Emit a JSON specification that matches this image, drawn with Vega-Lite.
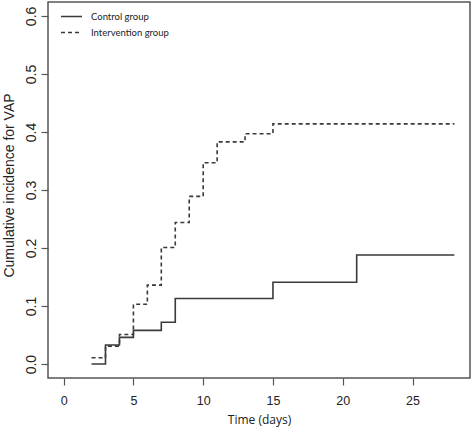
{
  "$schema": "https://vega.github.io/schema/vega-lite/v6.json",
  "width": 422,
  "height": 376,
  "autosize": {"type": "none"},
  "padding": {"left": 48, "top": 2, "right": 2, "bottom": 50},
  "background": "white",
  "config": {
    "view": {"stroke": "#555555", "strokeWidth": 1.5},
    "font": "Liberation Sans"
  },
  "data": {
    "values": [
      {"group": "Control group", "day": 2, "cif": 0.0},
      {"group": "Control group", "day": 3, "cif": 0.033},
      {"group": "Control group", "day": 4, "cif": 0.046},
      {"group": "Control group", "day": 5, "cif": 0.058},
      {"group": "Control group", "day": 7, "cif": 0.072},
      {"group": "Control group", "day": 8, "cif": 0.113},
      {"group": "Control group", "day": 15, "cif": 0.141},
      {"group": "Control group", "day": 21, "cif": 0.188},
      {"group": "Control group", "day": 28, "cif": 0.188},
      {"group": "Intervention group", "day": 2, "cif": 0.011},
      {"group": "Intervention group", "day": 3, "cif": 0.031},
      {"group": "Intervention group", "day": 4, "cif": 0.051},
      {"group": "Intervention group", "day": 5, "cif": 0.103},
      {"group": "Intervention group", "day": 6, "cif": 0.136},
      {"group": "Intervention group", "day": 7, "cif": 0.201},
      {"group": "Intervention group", "day": 8, "cif": 0.244},
      {"group": "Intervention group", "day": 9, "cif": 0.289},
      {"group": "Intervention group", "day": 10, "cif": 0.347},
      {"group": "Intervention group", "day": 11, "cif": 0.383},
      {"group": "Intervention group", "day": 13, "cif": 0.397},
      {"group": "Intervention group", "day": 15, "cif": 0.414},
      {"group": "Intervention group", "day": 28, "cif": 0.414}
    ]
  },
  "mark": {"type": "line", "interpolate": "step-after", "color": "#3a3a3a", "strokeWidth": 1.6},
  "encoding": {
    "x": {
      "field": "day", "type": "quantitative",
      "scale": {"domain": [-1.12, 29.12], "nice": false, "zero": false},
      "axis": {
        "values": [0, 5, 10, 15, 20, 25],
        "title": "Time (days)",
        "titleFont": "Open Sans", "titleFontSize": 12, "titleFontWeight": "normal", "titleColor": "#222",
        "titleY": 45, "titleBaseline": "alphabetic",
        "domain": false, "grid": false,
        "tickSize": 7, "tickColor": "#555", "tickWidth": 1.2,
        "labelFontSize": 12.5, "labelColor": "#222", "labelPadding": 9,
        "labelFlush": false
      }
    },
    "y": {
      "field": "cif", "type": "quantitative",
      "scale": {"domain": [-0.024, 0.624], "nice": false, "zero": false},
      "axis": {
        "values": [0, 0.1, 0.2, 0.3, 0.4, 0.5, 0.6],
        "format": ".1f",
        "title": "Cumulative incidence for VAP",
        "titleFontSize": 14, "titleFontWeight": "normal", "titleColor": "#222",
        "titleX": -35, "titleY": 183, "titleAlign": "center", "titleBaseline": "alphabetic", "titleAngle": -90,
        "domain": false, "grid": false,
        "tickSize": 7, "tickColor": "#555", "tickWidth": 1.2,
        "labelFontSize": 14, "labelColor": "#222",
        "labelAngle": -90, "labelAlign": "center", "labelBaseline": "alphabetic",
        "labelPadding": 6, "labelFlush": false
      }
    },
    "strokeDash": {
      "field": "group", "type": "nominal",
      "scale": {"domain": ["Control group", "Intervention group"], "range": [[1, 0], [4, 3]]},
      "legend": {
        "title": null,
        "orient": "none", "legendX": 12, "legendY": 3,
        "symbolType": "stroke", "symbolSize": 441, "symbolStrokeColor": "#3a3a3a", "symbolStrokeWidth": 1.6,
        "labelFont": "Lato", "labelFontSize": 9.5, "labelColor": "#222",
        "labelOffset": 8, "rowPadding": -4
      }
    }
  }
}
